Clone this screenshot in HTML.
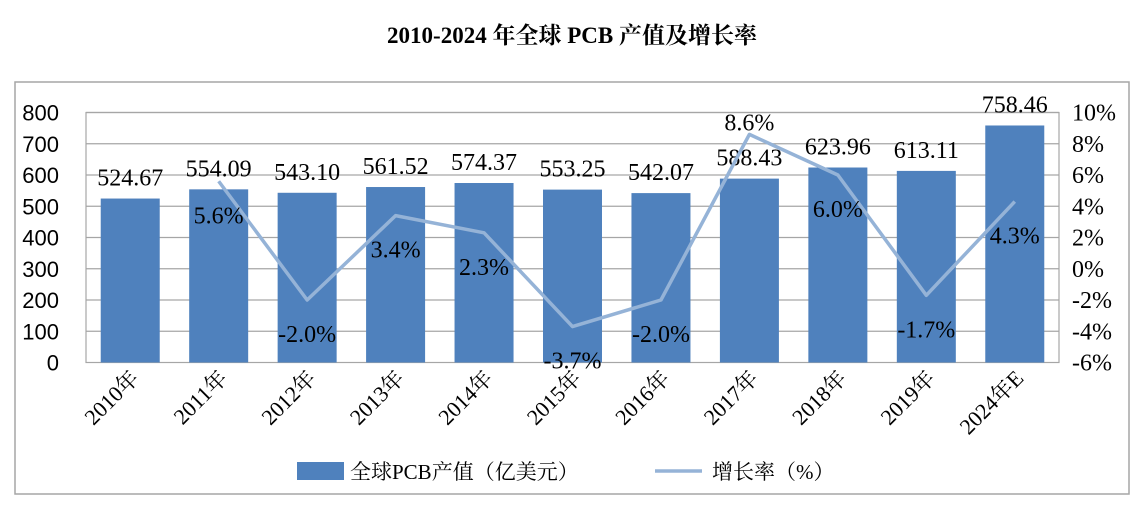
<!DOCTYPE html>
<html><head><meta charset="utf-8"><style>
body{margin:0;background:#fff;width:1144px;height:509px;overflow:hidden}
svg text{font-family:"Liberation Serif","Noto Serif CJK SC",serif}
.sans{font-family:"Liberation Sans","Noto Sans CJK SC",sans-serif}
</style></head><body>
<svg width="1144" height="509">
<text x="572" y="43" text-anchor="middle" font-size="23" font-weight="bold">2010-2024 年全球 PCB 产值及增长率</text>
<rect x="15" y="82" width="1114" height="412" fill="none" stroke="#a6a6a6" stroke-width="1.5"/>
<g id="g"></g>
<g>
<rect x="297" y="462" width="47" height="18" fill="#4f81bd"/>
<text x="350" y="479" font-size="21">全球PCB产值（亿美元）</text>
<line x1="655" y1="471" x2="702" y2="471" stroke="#95b3d7" stroke-width="3.5"/>
<text x="712" y="479" font-size="21">增长率（%）</text>
</g>
</svg>
<script>
const categories=["2010年","2011年","2012年","2013年","2014年","2015年","2016年","2017年","2018年","2019年","2024年E"];
const values=[524.67,554.09,543.10,561.52,574.37,553.25,542.07,588.43,623.96,613.11,758.46];
const valueLabels=["524.67","554.09","543.10","561.52","574.37","553.25","542.07","588.43","623.96","613.11","758.46"];
const growth=[null,5.6,-2.0,3.4,2.3,-3.7,-2.0,8.6,6.0,-1.7,4.3];
const leftTicks=[0,100,200,300,400,500,600,700,800];
const rightTicks=[-6,-4,-2,0,2,4,6,8,10];
const NS="http://www.w3.org/2000/svg";
const g=document.getElementById('g');
const L=86,R=1059,T=112.5,B=362.5;
const band=(R-L)/categories.length;
const y1=v=>B-(v-0)/800*(B-T);
const y2=v=>B-(v+6)/16*(B-T);
const xc=i=>L+band*(i+0.5);
function mk(tag,attrs,txt){const e=document.createElementNS(NS,tag);for(const k in attrs)e.setAttribute(k,attrs[k]);if(txt!=null)e.textContent=txt;g.appendChild(e);return e;}
leftTicks.forEach(t=>{
 if(t>0){const l=mk('line',{x1:L,x2:R,y1:y1(t),y2:y1(t),stroke:'#a6a6a6','stroke-width':1.2});
 
 }
 const tx=mk('text',{x:59,y:y1(t)+8,'text-anchor':'end','font-size':22,class:'sans',fill:'#000'},String(t));
 
 
});
rightTicks.forEach(t=>{
 const tx=mk('text',{x:1072,y:y2(t)+8,'font-size':24,fill:'#000'},t+'%');
 
 
});
const fr=mk('rect',{x:L,y:T,width:R-L,height:B-T,fill:'none',stroke:'#a6a6a6','stroke-width':1.2});


values.forEach((v,i)=>{
 const bw=59;
 const r=mk('rect',{x:xc(i)-bw/2,y:y1(v),width:bw,height:B-y1(v),fill:'#4f81bd'});
 
 
 const t=mk('text',{x:xc(i),y:y1(v)-13,'text-anchor':'middle','font-size':24},valueLabels[i]);
 
 
 const c=mk('text',{x:0,y:0,'text-anchor':'end','font-size':22,transform:`translate(${xc(i)+10},${B+17}) rotate(-45)`},categories[i]);
 
 
});
let pts=[];growth.forEach((v,i)=>{if(v!=null)pts.push([xc(i),y2(v)]);});
const pl=mk('polyline',{points:pts.map(p=>p.join(',')).join(' '),fill:'none',stroke:'#95b3d7','stroke-width':3.5,'stroke-linejoin':'round'});


const gmax=Math.max(...growth.filter(v=>v!=null));
growth.forEach((v,i)=>{
 if(v==null)return;
 const yy=v===gmax?y2(v)-4:y2(v)+42;
 const t=mk('text',{x:xc(i),y:yy,'text-anchor':'middle','font-size':24},v.toFixed(1)+'%');
 
 
});
</script>
</body></html>
